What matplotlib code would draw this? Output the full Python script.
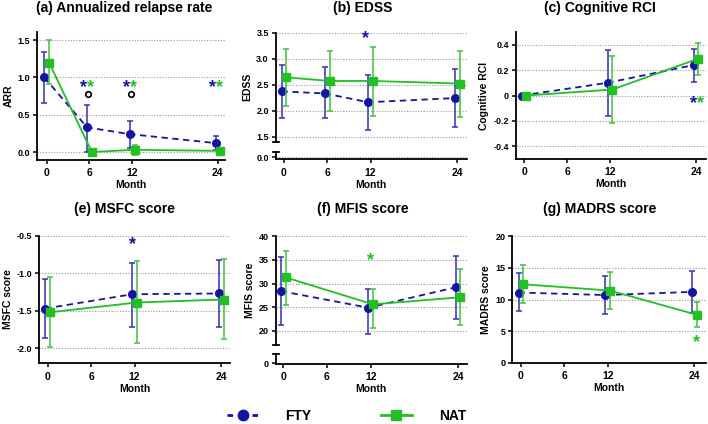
import matplotlib
matplotlib.use("Agg")
import matplotlib.pyplot as plt
from matplotlib.lines import Line2D
import numpy as np

plt.rcParams['font.family'] = ['Liberation Sans', 'DejaVu Sans']
plt.rcParams['font.weight'] = 'bold'

BLUE = '#1414a4'
BLUE_E = '#3030b4'
GREEN = '#22c022'
GREEN_E = '#40c040'

months = [0, 6, 12, 24]
months3 = [0, 12, 24]

# (a) Annualized relapse rate
arr_fty = [1.00, 0.33, 0.24, 0.12]
arr_fty_lo = [0.66, 0.00, 0.06, 0.03]
arr_fty_hi = [1.34, 0.63, 0.42, 0.21]
arr_nat = [1.20, 0.00, 0.03, 0.015]
arr_nat_lo = [0.91, 0.00, -0.04, 0.005]
arr_nat_hi = [1.50, 0.00, 0.10, 0.025]

# (b) EDSS
edss_fty = [2.37, 2.33, 2.16, 2.24]
edss_fty_lo = [1.85, 1.86, 1.63, 1.69]
edss_fty_hi = [2.88, 2.83, 2.69, 2.80]
edss_nat = [2.64, 2.57, 2.57, 2.52]
edss_nat_lo = [2.08, 1.99, 1.90, 1.88]
edss_nat_hi = [3.18, 3.15, 3.23, 3.15]

# (c) Cognitive RCI
rci_fty = [0.0, 0.10, 0.24]
rci_fty_lo = [0.0, -0.16, 0.11]
rci_fty_hi = [0.0, 0.36, 0.37]
rci_nat = [0.0, 0.047, 0.29]
rci_nat_lo = [0.0, -0.22, 0.165]
rci_nat_hi = [0.0, 0.31, 0.41]

# (e) MSFC score
msfc_fty = [-1.47, -1.28, -1.27]
msfc_fty_lo = [-1.86, -1.71, -1.72]
msfc_fty_hi = [-1.08, -0.86, -0.83]
msfc_nat = [-1.52, -1.39, -1.35]
msfc_nat_lo = [-1.98, -1.93, -1.88]
msfc_nat_hi = [-1.05, -0.84, -0.81]

# (f) MFIS score
mfis_fty = [28.4, 24.9, 29.2]
mfis_fty_lo = [21.3, 19.4, 22.5]
mfis_fty_hi = [35.6, 28.8, 35.8]
mfis_nat = [31.3, 25.6, 27.1]
mfis_nat_lo = [25.5, 20.7, 21.3]
mfis_nat_hi = [36.9, 28.8, 33.0]

# (g) MADRS score
madrs_fty = [11.1, 10.7, 11.2]
madrs_fty_lo = [8.2, 7.7, 7.8]
madrs_fty_hi = [14.1, 13.7, 14.5]
madrs_nat = [12.4, 11.4, 7.6]
madrs_nat_lo = [9.45, 8.5, 5.7]
madrs_nat_hi = [15.5, 14.3, 9.55]

W, H = 708, 424
fig = plt.figure(figsize=(W / 100, H / 100), dpi=100)


def rect(l, r, t, b):
    return [l / W, 1 - b / H, (r - l) / W, (b - t) / H]


OFF = 0.33
TICKFS_X = 7.5
TICKFS_Y = 6.5
LABFS = 7.5


def style(ax, show_x=True):
    for s in ['top', 'right']:
        ax.spines[s].set_visible(False)
    ax.spines['left'].set_linewidth(1.3)
    ax.spines['bottom'].set_linewidth(1.3)
    ax.tick_params(axis='both', direction='out', length=3, width=1.1, pad=2)
    ax.tick_params(axis='x', labelsize=TICKFS_X, pad=3)
    ax.tick_params(axis='y', labelsize=TICKFS_Y)
    ax.yaxis.grid(True, linestyle=(0, (1, 1.5)), color='#9a9a9a', linewidth=0.8)
    ax.set_axisbelow(True)
    if not show_x:
        ax.spines['bottom'].set_visible(False)
        ax.tick_params(axis='x', bottom=False, labelbottom=False)


def draw(ax, x, fty, flo, fhi, nat, nlo, nhi):
    xf = np.array(x) - OFF
    xn = np.array(x) + OFF
    fty = np.array(fty); nat = np.array(nat)
    ax.plot(xf, fty, color=BLUE, lw=1.3, dashes=(3.5, 2.5), zorder=3)
    ax.errorbar(xf, fty, yerr=[fty - np.array(flo), np.array(fhi) - fty], fmt='none',
                ecolor=BLUE_E, elinewidth=1.1, capsize=2.5, capthick=1.1, zorder=3)
    ax.plot(xf, fty, 'o', color=BLUE, ms=5.5, zorder=4)
    ax.plot(xn, nat, color=GREEN, lw=1.3, zorder=5)
    ax.errorbar(xn, nat, yerr=[nat - np.array(nlo), np.array(nhi) - nat], fmt='none',
                ecolor=GREEN_E, elinewidth=1.1, capsize=2.5, capthick=1.1, zorder=5)
    ax.plot(xn, nat, 's', color=GREEN, ms=5.5, zorder=6)


def star(ax, x, y, color):
    ax.text(x, y, '*', color=color, fontsize=13, fontweight='bold', ha='center',
            va='center', zorder=7)


def cap(ax, where):
    bb = ax.get_position()
    d = 3.0 / (bb.width * W)
    ax.plot([-d, d], [where, where], transform=ax.transAxes, color='black',
            lw=1.3, clip_on=False, zorder=10)


def xaxis_setup(ax, lo, hi):
    ax.set_xlim(lo, hi)
    ax.set_xticks(months, [str(m) for m in months])
    ax.set_xlabel('Month', fontsize=LABFS, fontweight='bold', labelpad=1.5)


# ---- (a)
ax = fig.add_axes(rect(37, 225, 32, 160))
style(ax)
draw(ax, months, arr_fty, arr_fty_lo, arr_fty_hi, arr_nat, arr_nat_lo, arr_nat_hi)
ax.set_ylim(-0.107, 1.61)
ax.set_yticks([0, 0.5, 1.0, 1.5], ['0.0', '0.5', '1.0', '1.5'])
xaxis_setup(ax, -1.36, 25.0)
ax.set_ylabel('ARR', fontsize=LABFS, fontweight='bold', labelpad=3)
for m in [6, 12, 24]:
    star(ax, m - 0.8, 0.86, BLUE)
    star(ax, m + 0.2, 0.86, GREEN)
for m in [6, 12]:
    ax.plot([m - 0.2], [0.78], 'o', mfc='none', mec='black', mew=1.2, ms=4)

# ---- (b) broken axis
axu = fig.add_axes(rect(275.7, 466.5, 32.7, 141.7))
style(axu, show_x=False)
draw(axu, months, edss_fty, edss_fty_lo, edss_fty_hi, edss_nat, edss_nat_lo, edss_nat_hi)
axu.set_ylim(1.4, 3.5)
axu.set_yticks([1.5, 2.0, 2.5, 3.0, 3.5], ['1.5', '2.0', '2.5', '3.0', '3.5'])
axu.set_xlim(-1.15, 25.3)
axu.set_ylabel('EDSS', fontsize=LABFS, fontweight='bold', labelpad=3)
star(axu, 12 - 0.75, 3.38, BLUE)
cap(axu, 0)
axl = fig.add_axes(rect(275.7, 466.5, 151.7, 159.3))
style(axl)
axl.set_ylim(-0.04, 0.112)
axl.set_yticks([0.0], ['0.0'])
xaxis_setup(axl, -1.15, 25.3)
cap(axl, 1)

# ---- (c)
ax = fig.add_axes(rect(515.7, 706, 32, 159))
style(ax)
draw(ax, months3, rci_fty, rci_fty_lo, rci_fty_hi, rci_nat, rci_nat_lo, rci_nat_hi)
ax.set_ylim(-0.5, 0.5)
ax.set_yticks([-0.4, -0.2, 0, 0.2, 0.4], ['-0.4', '-0.2', '0', '0.2', '0.4'])
xaxis_setup(ax, -1.16, 25.4)
ax.set_ylabel('Cognitive RCI', fontsize=LABFS, fontweight='bold', labelpad=3)
star(ax, 24 - 0.4, -0.06, BLUE)
star(ax, 24 + 0.65, -0.06, GREEN)

# ---- (e)
ax = fig.add_axes(rect(39.3, 230, 235.7, 363.3))
style(ax)
draw(ax, months3, msfc_fty, msfc_fty_lo, msfc_fty_hi, msfc_nat, msfc_nat_lo, msfc_nat_hi)
ax.set_ylim(-2.2, -0.5)
ax.set_yticks([-2.0, -1.5, -1.0, -0.5], ['-2.0', '-1.5', '-1.0', '-0.5'])
xaxis_setup(ax, -1.16, 25.2)
ax.set_ylabel('MSFC score', fontsize=LABFS, fontweight='bold', labelpad=3)
star(ax, 12 - 0.33, -0.62, BLUE)

# ---- (f) broken axis
axu = fig.add_axes(rect(275.7, 466.7, 236.3, 345))
style(axu, show_x=False)
draw(axu, months3, mfis_fty, mfis_fty_lo, mfis_fty_hi, mfis_nat, mfis_nat_lo, mfis_nat_hi)
axu.set_ylim(17.0, 40)
axu.set_yticks([20, 25, 30, 35, 40], ['20', '25', '30', '35', '40'])
axu.set_xlim(-1.05, 25.2)
axu.set_ylabel('MFIS score', fontsize=LABFS, fontweight='bold', labelpad=3)
star(axu, 12 + 0.0, 34.8, GREEN)
cap(axu, 0)
axl = fig.add_axes(rect(275.7, 466.7, 354.3, 363.7))
style(axl)
axl.yaxis.grid(False)
axl.set_ylim(-0.1, 1.9)
axl.set_yticks([0], ['0'])
xaxis_setup(axl, -1.05, 25.2)
cap(axl, 1)

# ---- (g)
ax = fig.add_axes(rect(512.3, 706, 236, 363))
style(ax)
draw(ax, months3, madrs_fty, madrs_fty_lo, madrs_fty_hi, madrs_nat, madrs_nat_lo, madrs_nat_hi)
ax.set_ylim(0, 20)
ax.set_yticks([0, 5, 10, 15, 20], ['0', '5', '10', '15', '20'])
xaxis_setup(ax, -1.2, 25.6)
ax.set_ylabel('MADRS score', fontsize=LABFS, fontweight='bold', labelpad=3)
star(ax, 24 + 0.33, 3.2, GREEN)

# ---- titles
titles = ['(a) Annualized relapse rate', '(b) EDSS', '(c) Cognitive RCI',
          '(e) MSFC score', '(f) MFIS score', '(g) MADRS score']
tx = [124, 362.5, 600, 124, 363, 600]
ty = [8, 8, 8, 209, 209, 209]
for t, x, y in zip(titles, tx, ty):
    fig.text(x / W, 1 - y / H, t, ha='center', va='center', fontsize=10, fontweight='bold')

# ---- legend
handles = [Line2D([], [], color=BLUE, lw=2, dashes=(2, 2.5), marker='o', ms=7.5,
                  markerfacecolor=BLUE, markeredgecolor=BLUE),
           Line2D([], [], color=GREEN, lw=2, marker='s', ms=7.5,
                  markerfacecolor=GREEN, markeredgecolor=GREEN)]
fig.legend(handles, ['FTY', 'NAT'], loc='center', bbox_to_anchor=(347 / W, 1 - 416 / H),
           ncol=2, frameon=False, handlelength=2.2, handletextpad=2.0, columnspacing=5.0,
           prop={'size': 10, 'weight': 'bold'})

fig.savefig('out.png', dpi=100)
